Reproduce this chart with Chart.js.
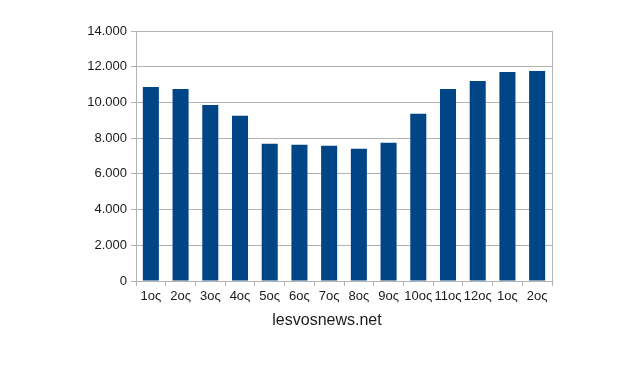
<!DOCTYPE html>
<html>
<head>
<meta charset="utf-8">
<script src="https://cdn.jsdelivr.net/npm/chart.js@4/dist/chart.umd.min.js"></script>
<style>
  html, body { margin: 0; padding: 0; background: #fff; }
  #wrap { width: 623px; height: 375px; }
</style>
</head>
<body>
<div id="wrap"><canvas id="chart" width="623" height="375"></canvas></div>
<script>
const categories = ["1ος", "2ος", "3ος", "4ος", "5ος", "6ος", "7ος", "8ος", "9ος", "10ος", "11ος", "12ος", "1ος", "2ος"];
const values = [10870, 10750, 9860, 9250, 7680, 7630, 7570, 7400, 7740, 9360, 10750, 11200, 11700, 11760];
const yMin = 0;
const yMax = 14000;
const yStep = 2000;
const sourceLabel = "lesvosnews.net";

const gridColor = "#b3b3b3";
const textColor = "#1a1a1a";

// right border of the plot area and the source text under the axis
const extras = {
    id: "extras",
    afterDraw(chart) {
        const ctx = chart.ctx;
        const area = chart.chartArea;
        ctx.save();
        ctx.strokeStyle = gridColor;
        ctx.lineWidth = 1;
        ctx.beginPath();
        ctx.moveTo(Math.round(area.right) + 0.5, area.top);
        ctx.lineTo(Math.round(area.right) + 0.5, area.bottom);
        ctx.stroke();
        ctx.fillStyle = textColor;
        ctx.font = "16px 'Liberation Sans', Arial, sans-serif";
        ctx.textAlign = "center";
        ctx.textBaseline = "alphabetic";
        ctx.fillText(sourceLabel, 327, 325);
        ctx.restore();
    }
};

new Chart(document.getElementById("chart").getContext("2d"), {
    type: "bar",
    data: {
        labels: categories,
        datasets: [{
            data: values,
            backgroundColor: "#004586",
            borderWidth: 0,
            barPercentage: 0.54,
            categoryPercentage: 1
        }]
    },
    options: {
        responsive: false,
        animation: false,
        layout: { padding: { left: 0, top: 31, right: 71, bottom: 0 } },
        plugins: { legend: { display: false }, title: { display: false }, tooltip: { enabled: false } },
        scales: {
            x: {
                afterFit: s => { s.height = 94; },
                grid: { offset: true, drawOnChartArea: false, drawTicks: true, tickLength: 5, color: gridColor },
                border: { color: gridColor },
                ticks: {
                    color: textColor,
                    padding: 3,
                    maxRotation: 0,
                    autoSkip: false,
                    font: { family: "'Liberation Sans', Arial, sans-serif", size: 13 }
                }
            },
            y: {
                min: yMin,
                max: yMax,
                afterFit: s => { s.width = 136; },
                grid: { color: gridColor, tickLength: 5 },
                border: { color: gridColor },
                ticks: {
                    stepSize: yStep,
                    color: textColor,
                    padding: 4,
                    font: { family: "'Liberation Sans', Arial, sans-serif", size: 13 },
                    callback: v => v.toLocaleString("de-DE")
                }
            }
        }
    },
    plugins: [extras]
});
</script>
</body>
</html>
